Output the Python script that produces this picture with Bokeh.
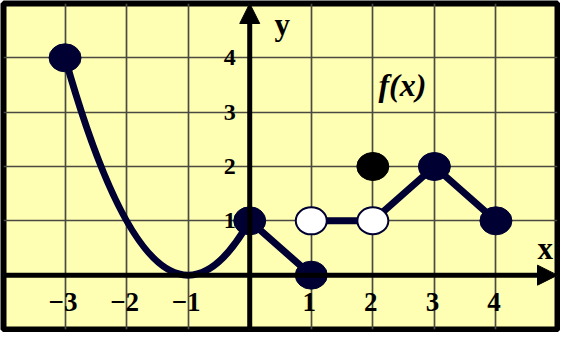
from bokeh.plotting import figure
from bokeh.models import Arrow, NormalHead, FixedTicker, Range1d
from bokeh.core.properties import value
from bokeh.embed import file_html
from bokeh.resources import INLINE

# ---- data ----
# parabolic piece on [-3, 0] as quadratic Bezier pieces (endpoints + control points)
curve_x0 = [-3, -1]
curve_y0 = [4, 0]
curve_x1 = [-1, 0]
curve_y1 = [0, 1]
curve_cx = [-2, -0.5]
curve_cy = [0, 0]

seg1_x = [0, 1]
seg1_y = [1, 0]
seg2_x = [1, 2]
seg2_y = [1, 1]
seg3_x = [2, 3, 4]
seg3_y = [1, 2, 1]

filled_x = [-3, 0, 1, 3, 4]
filled_y = [4, 1, 0, 2, 1]
black_x = [2]
black_y = [2]
open_x = [1, 2]
open_y = [1, 1]

xtick_vals = [-3, -2, -1, 1, 2, 3, 4]
xtick_labels = ["\u22123", "\u22122", "\u22121", "1", "2", "3", "4"]
ytick_vals = [1, 2, 3, 4]
ytick_labels = ["1", "2", "3", "4"]

NAVY = "#000033"
SERIF = value("Liberation Serif")

p = figure(width=560, height=332, output_backend="svg", toolbar_location=None,
           x_range=Range1d(-4, 5), y_range=Range1d(-1, 5),
           x_axis_location=None, y_axis_location=None, min_border=3)
p.background_fill_color = "#FFFFB4"
p.border_fill_color = "white"
p.outline_line_color = "black"
p.outline_line_width = 6

p.xgrid.ticker = FixedTicker(ticks=list(range(-4, 6)))
p.ygrid.ticker = FixedTicker(ticks=list(range(-1, 6)))
for g in (p.xgrid, p.ygrid):
    g.grid_line_color = "#4a4a40"
    g.grid_line_width = 1.7

# axes with arrows
p.add_layout(Arrow(end=NormalHead(size=20, fill_color="black", line_color="black"),
                   x_start=-4, y_start=0, x_end=5, y_end=0,
                   line_color="black", line_width=5))
p.add_layout(Arrow(end=NormalHead(size=20, fill_color="black", line_color="black"),
                   x_start=0, y_start=-1, x_end=0, y_end=5,
                   line_color="black", line_width=5))

# tick labels
p.text(x=xtick_vals, y=[0] * len(xtick_vals), text=xtick_labels,
       text_font=SERIF, text_font_style="bold", text_font_size="27px",
       text_align="center", text_baseline="middle", y_offset=27, x_offset=-2,
       text_color="black")
p.text(x=[0] * len(ytick_vals), y=ytick_vals, text=ytick_labels,
       text_font=SERIF, text_font_style="bold", text_font_size="24px",
       text_align="right", text_baseline="middle", x_offset=-14,
       text_color="black")
p.text(x=[4.8], y=[0.5], text=["x"], text_font=SERIF, text_font_style="bold",
       text_font_size="31px", text_align="center", text_baseline="middle")
p.text(x=[0.53], y=[4.62], text=["y"], text_font=SERIF, text_font_style="bold",
       text_font_size="31px", text_align="center", text_baseline="middle")
p.text(x=[2.48], y=[3.5], text=["f(x)"], text_font=SERIF, text_font_style="bold italic",
       text_font_size="32px", text_align="center", text_baseline="middle")

# curve and segments
p.quadratic(x0=curve_x0, y0=curve_y0, x1=curve_x1, y1=curve_y1, cx=curve_cx, cy=curve_cy,
            line_color=NAVY, line_width=7)
for xs, ys in ((seg1_x, seg1_y), (seg2_x, seg2_y), (seg3_x, seg3_y)):
    p.line(xs, ys, line_color=NAVY, line_width=7, line_join="round", line_cap="round")

# points
p.ellipse(x=filled_x, y=filled_y, width=32, height=28, width_units="screen",
          height_units="screen", fill_color=NAVY, line_color=NAVY)
p.ellipse(x=black_x, y=black_y, width=32, height=28, width_units="screen",
          height_units="screen", fill_color="black", line_color="black")
p.ellipse(x=open_x, y=open_y, width=31, height=27, width_units="screen",
          height_units="screen", fill_color="white", line_color=NAVY, line_width=2)

open("out.html", "w").write(file_html(p, INLINE))
